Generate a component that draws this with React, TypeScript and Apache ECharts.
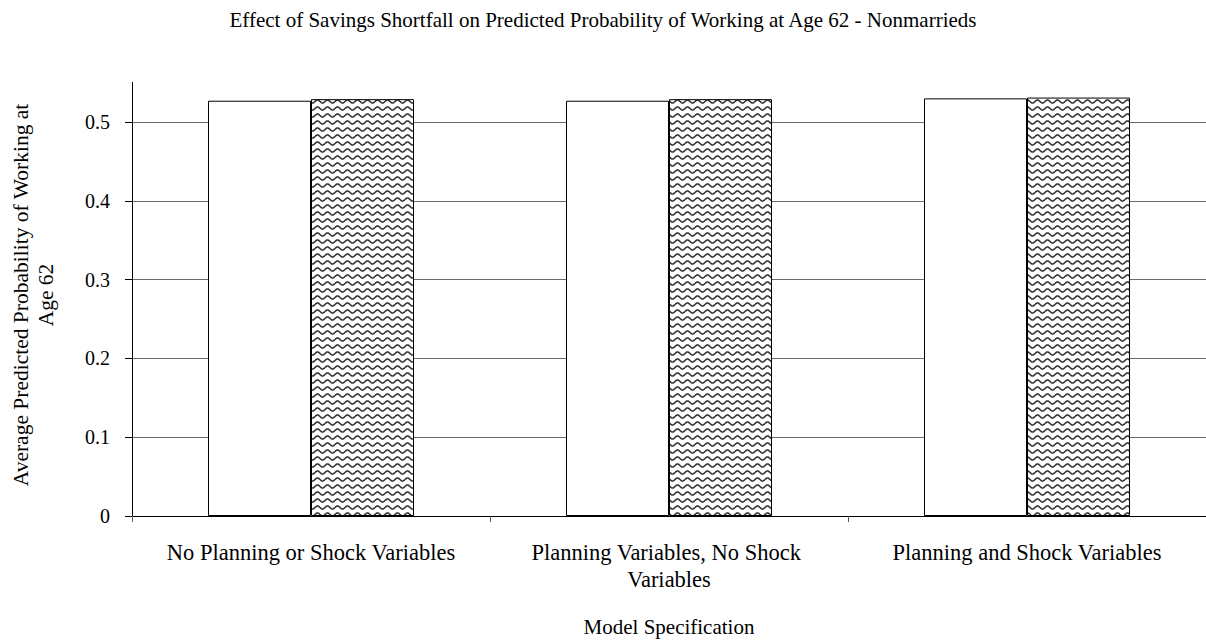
import React, { useEffect, useRef } from "react";
import * as echarts from "echarts";

const categories = [
  "No Planning or Shock Variables",
  "Planning Variables, No Shock Variables",
  "Planning and Shock Variables",
];
const seriesA = [0.527, 0.527, 0.53];
const seriesB = [0.529, 0.529, 0.531];
const yTicks = [0, 0.1, 0.2, 0.3, 0.4, 0.5];
const titleText =
  "Effect of Savings Shortfall on Predicted Probability of Working at Age 62 - Nonmarrieds";
const yName = "Average Predicted Probability of Working at\nAge 62";
const xName = "Model Specification";

const FONT = "Liberation Serif";

function makeWave(): string {
  const c = document.createElement("canvas");
  c.width = 10;
  c.height = 7;
  const ctx = c.getContext("2d")!;
  ctx.fillStyle = "#ffffff";
  ctx.fillRect(0, 0, 10, 7);
  ctx.strokeStyle = "#333333";
  ctx.lineWidth = 1.6;
  ctx.beginPath();
  for (let x = -1; x <= 11; x += 0.5) {
    const y = 3.5 + 1.5 * Math.sin((x / 10) * Math.PI * 2);
    if (x === -1) ctx.moveTo(x, y);
    else ctx.lineTo(x, y);
  }
  ctx.stroke();
  return c.toDataURL();
}

export default function App() {
  const ref = useRef<HTMLDivElement>(null);
  useEffect(() => {
    if (!ref.current) return;
    const chart = echarts.init(ref.current, undefined, { renderer: "svg" });
    const wave = makeWave();
    const gridLeft = 132;
    const gridTop = 122;
    const gridBottom = 127;
    chart.setOption({
      animation: false,
      backgroundColor: "#ffffff",
      textStyle: { fontFamily: FONT },
      title: {
        text: titleText,
        left: "center",
        top: 4,
        textStyle: { fontFamily: FONT, fontSize: 21, fontWeight: "normal", color: "#000" },
      },
      grid: { left: gridLeft, right: -3, top: gridTop, bottom: gridBottom, containLabel: false },
      xAxis: {
        type: "category",
        data: categories,
        boundaryGap: true,
        axisLine: { show: true, lineStyle: { color: "#000", width: 1 } },
        axisTick: { show: true, alignWithLabel: false, length: 6, lineStyle: { color: "#555" } },
        axisLabel: {
          fontFamily: FONT,
          fontSize: 22.5,
          color: "#000",
          margin: 23,
          width: 320,
          overflow: "break",
          lineHeight: 27,
          interval: 0,
        },
        name: xName,
        nameLocation: "middle",
        nameGap: 100,
        nameTextStyle: { fontFamily: FONT, fontSize: 21, color: "#000" },
      },
      yAxis: {
        type: "value",
        min: 0,
        max: 0.5,
        interval: 0.1,
        axisLine: { show: true, lineStyle: { color: "#000", width: 1 } },
        axisTick: { show: true, inside: false, length: 7, lineStyle: { color: "#000" } },
        axisLabel: {
          fontFamily: FONT,
          fontSize: 20,
          color: "#000",
          margin: 22,
          formatter: (v: number) => (yTicks.includes(Math.round(v * 10) / 10) ? String(Math.round(v * 10) / 10) : ""),
        },
        splitLine: { show: true, lineStyle: { color: "#6b6b6b", width: 1 } },
      },
      graphic: [
        {
          type: "line",
          shape: { x1: gridLeft + 0.5, y1: 82, x2: gridLeft + 0.5, y2: gridTop },
          style: { stroke: "#000", lineWidth: 1 },
        },
        {
          type: "text",
          x: 33,
          y: 295,
          rotation: Math.PI / 2,
          style: {
            text: yName,
            fontFamily: FONT,
            fontSize: 21.5,
            lineHeight: 25,
            fill: "#000",
            align: "center",
            verticalAlign: "middle",
          },
        },
      ],
      series: [
        {
          type: "bar",
          data: seriesA,
          barWidth: 103,
          barGap: "0%",
          clip: false,
          itemStyle: { color: "#ffffff", borderColor: "#000", borderWidth: 1 },
        },
        {
          type: "bar",
          data: seriesB,
          barWidth: 103,
          barGap: "0%",
          clip: false,
          itemStyle: {
            color: { image: wave, repeat: "repeat" },
            borderColor: "#000",
            borderWidth: 1,
          },
        },
      ],
    });
    return () => chart.dispose();
  }, []);
  return (
    <div
      ref={ref}
      style={{ position: "absolute", left: 0, top: 0, width: 1206, height: 643 }}
    />
  );
}
